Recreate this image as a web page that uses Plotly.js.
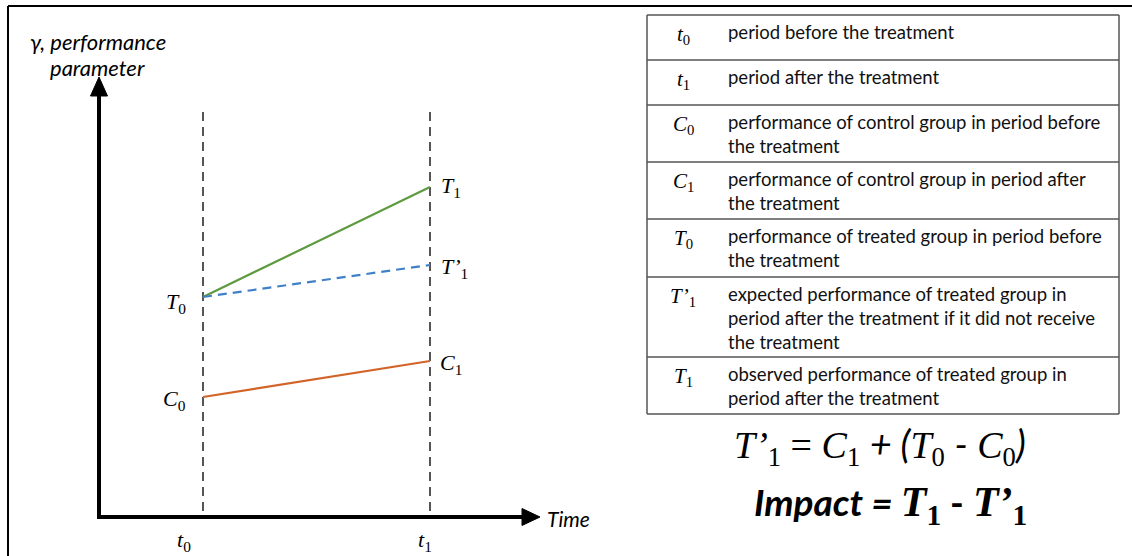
<!DOCTYPE html>
<html>
<head>
<meta charset="utf-8">
<script src="https://cdn.plot.ly/plotly-3.0.1.min.js"></script>
<style>html,body{margin:0;padding:0;background:#fff;}#chart{width:1132px;height:556px;}</style>
</head>
<body>
<div id="chart"></div>
<script>
// ---- data ----
const periods = [0, 1];                       // t0, t1
const periodLabels = ["<i>t</i><sub>0</sub>", "<i>t</i><sub>1</sub>"];
const control = [3.0, 3.9];                   // C0, C1
const treated = [5.5, 8.25];                  // T0, T1
const counterfactual = [5.5, 6.3];            // T0, T'1
const controlLabels = ["<i>C</i><sub>0</sub>", "<i>C</i><sub>1</sub>"];
const treatedLabels = ["<i>T</i><sub>0</sub>", "<i>T</i><sub>1</sub>"];
const counterLabel = "<i>T’</i><sub>1</sub>";
const tableSymbols = [
  "<i>t</i><sub>0</sub>", "<i>t</i><sub>1</sub>", "<i>C</i><sub>0</sub>", "<i>C</i><sub>1</sub>",
  "<i>T</i><sub>0</sub>", "<i>T’</i><sub>1</sub>", "<i>T</i><sub>1</sub>"
];
const tableDescriptions = [
  "period before the treatment",
  "period after the treatment",
  "performance of control group in period before<br>the treatment",
  "performance of control group in period after<br>the treatment",
  "performance of treated group in period before<br>the treatment",
  "expected performance of treated group in<br>period after the treatment if it did not receive<br>the treatment",
  "observed performance of treated group in<br>period after the treatment"
];

// ---- layout helpers ----
const W = 1132, H = 556;
const px = x => x / W;
const py = y => 1 - y / H;
const SANS = "Lato, 'Open Sans', sans-serif";
const SERIF = "'Liberation Serif', 'DejaVu Serif', serif";

const shapes = [];
const annotations = [];
function pline(x0, y0, x1, y1, color, width, dash) {
  shapes.push({type: 'line', xref: 'paper', yref: 'paper', x0: px(x0), y0: py(y0), x1: px(x1), y1: py(y1),
    line: {color: color, width: width, dash: dash || 'solid'}, layer: 'above'});
}
function ppath(pts, color) {
  const d = pts.map((p, i) => (i ? 'L' : 'M') + px(p[0]).toFixed(5) + ',' + py(p[1]).toFixed(5)).join(' ') + ' Z';
  shapes.push({type: 'path', xref: 'paper', yref: 'paper', path: d, fillcolor: color, line: {color: color, width: 1}, layer: 'above'});
}
function ptext(x, y, text, opts) {
  annotations.push(Object.assign({xref: 'paper', yref: 'paper', x: px(x), y: py(y), text: text, showarrow: false,
    xanchor: 'center', yanchor: 'middle', font: {family: SANS, size: 16, color: '#000'}}, opts || {}));
}

// frame
pline(8, 6, 1132, 6, '#000', 2);
pline(8, 6, 8, 556, '#000', 2);

// axes with arrows
pline(99, 519, 99, 94, '#000', 4);
ppath([[90.5, 96], [107.5, 96], [99, 77]], '#000');
pline(97, 517, 524, 517, '#000', 4);
ppath([[522, 508.5], [522, 525.5], [540, 517]], '#000');

// dashed period guides
const periodShift = [-19, -5];
periods.forEach((p, i) => {
  shapes.push({type: 'line', xref: 'x', yref: 'paper', x0: p, x1: p, y0: py(511), y1: py(110),
    line: {color: '#555', width: 2, dash: '9px,6px'}, layer: 'below'});
  annotations.push({xref: 'x', yref: 'paper', x: p, y: py(541), text: periodLabels[i], showarrow: false,
    xanchor: 'center', yanchor: 'middle', xshift: periodShift[i], font: {family: SERIF, size: 22, color: '#000'}});
});

// axis titles
ptext(98, 42, "<i>γ, performance</i>", {font: {family: SANS, size: 22, color: '#000'}});
ptext(97, 67, "<i>parameter</i>", {font: {family: SANS, size: 22, color: '#000'}});
ptext(545, 518, "<i>Time</i>", {xanchor: 'left', font: {family: SANS, size: 21, color: '#000'}});

// point labels
const lblFont = {family: SERIF, size: 22, color: '#000'};
annotations.push({xref: 'x', yref: 'y', x: periods[1], y: treated[1], text: treatedLabels[1], showarrow: false,
  xanchor: 'left', yanchor: 'middle', xshift: 9, yshift: 0, font: lblFont});
annotations.push({xref: 'x', yref: 'y', x: periods[1], y: counterfactual[1], text: counterLabel, showarrow: false,
  xanchor: 'left', yanchor: 'middle', xshift: 9, yshift: -3, font: lblFont});
annotations.push({xref: 'x', yref: 'y', x: periods[1], y: control[1], text: controlLabels[1], showarrow: false,
  xanchor: 'left', yanchor: 'middle', xshift: 8, yshift: -3, font: lblFont});
annotations.push({xref: 'x', yref: 'y', x: periods[0], y: treated[0], text: treatedLabels[0], showarrow: false,
  xanchor: 'right', yanchor: 'middle', xshift: -15, yshift: -6, font: lblFont});
annotations.push({xref: 'x', yref: 'y', x: periods[0], y: control[0], text: controlLabels[0], showarrow: false,
  xanchor: 'right', yanchor: 'middle', xshift: -15, yshift: -3, font: lblFont});

// table
const rowLines = [15, 60, 105, 162, 219, 277, 357, 414];
const tL = 647, tR = 1119;
for (let i = 0; i < rowLines.length; i++) pline(tL, rowLines[i], tR, rowLines[i], '#555', 1.5);
pline(tL, 15, tL, 414, '#555', 1.5);
pline(tR, 15, tR, 414, '#555', 1.5);
for (let i = 0; i < tableSymbols.length; i++) {
  const top = rowLines[i];
  ptext(683, top + 20, tableSymbols[i], {font: {family: SERIF, size: 21, color: '#000'}});
  ptext(726, top + 4, tableDescriptions[i], {xanchor: 'left', yanchor: 'top', align: 'left',
    font: {family: SANS, size: 18.5, color: '#111'}});
}

// formulas
ptext(880, 446, "<i>T’</i><sub>1</sub> = <i>C</i><sub>1</sub> <span style='font-family:Lato'><i>+ (</i></span><i>T</i><sub>0</sub> <span style='font-family:Lato'><i>-</i></span> <i>C</i><sub>0</sub><span style='font-family:Lato'><i>)</i></span>",
  {font: {family: SERIF, size: 38, color: '#000'}});
ptext(890, 505, "<b><i>Impact = </i></b><span style='font-family:Liberation Serif;font-size:42px'><b><i>T</i><sub>1</sub></b></span><b>&nbsp;- </b><span style='font-family:Liberation Serif;font-size:42px'><b><i>T’</i><sub>1</sub></b></span>",
  {font: {family: SANS, size: 37, color: '#000'}});

// ---- traces ----
const traces = [
  {x: periods, y: treated, mode: 'lines', line: {color: '#5E9A3F', width: 2.2}, name: 'treated', hoverinfo: 'skip'},
  {x: periods, y: counterfactual, mode: 'lines', line: {color: '#3F80C8', width: 2.2, dash: '9px,6px'}, name: 'counterfactual', hoverinfo: 'skip'},
  {x: periods, y: control, mode: 'lines', line: {color: '#D2642A', width: 2.2}, name: 'control', hoverinfo: 'skip'}
];

const layout = {
  width: W, height: H,
  margin: {l: 0, r: 0, t: 0, b: 0, pad: 0},
  paper_bgcolor: '#fff', plot_bgcolor: '#fff',
  showlegend: false,
  xaxis: {range: [-203 / 227, (W - 203) / 227], visible: false, fixedrange: true},
  yaxis: {range: [(517 - H) / 40, 517 / 40], visible: false, fixedrange: true},
  shapes: shapes,
  annotations: annotations
};
Plotly.newPlot('chart', traces, layout, {displayModeBar: false});
</script>
</body>
</html>
